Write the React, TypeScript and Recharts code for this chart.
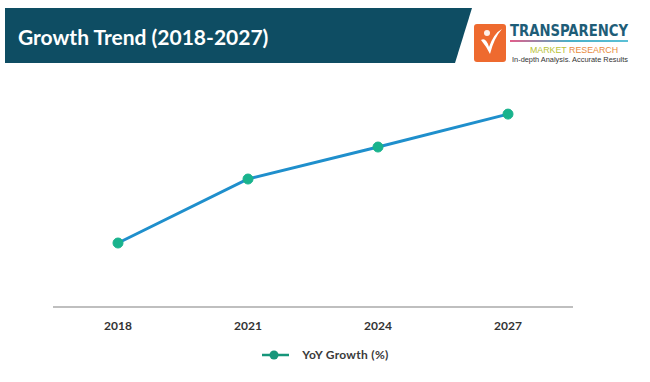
import React from "react";
import { LineChart, Line, XAxis, YAxis, Legend } from "recharts";

const years = ["2018", "2021", "2024", "2027"];
const growth = [27, 54, 67.5, 81.4];
const seriesName = "YoY Growth (%)";
const title = "Growth Trend (2018-2027)";

const data = years.map((y, i) => ({ year: y, value: growth[i] }));

const FONT = "Lato, 'Open Sans', sans-serif";

const LegendContent = () => (
  <div style={{ display: "flex", justifyContent: "center", alignItems: "center", fontFamily: FONT }}>
    <svg width={30} height={12} style={{ marginRight: 11 }}>
      <line x1={1} y1={6} x2={28} y2={6} stroke="#16967a" strokeWidth={2.5} />
      <circle cx={13} cy={6} r={4.5} fill="#16967a" />
    </svg>
    <span style={{ fontSize: 12, fontWeight: 700, color: "#3a3a3a", letterSpacing: 0.3 }}>{seriesName}</span>
  </div>
);

const Dot = (props: any) => {
  const { cx, cy } = props;
  if (cx == null || cy == null) return null;
  return <circle cx={cx} cy={cy} r={5} fill="#19b38d" stroke="#19b38d" strokeWidth={1} />;
};

export default function App() {
  return (
    <div style={{ position: "absolute", left: 0, top: 0, width: 650, height: 382, background: "#fff", overflow: "hidden" }}>
      <svg width={650} height={70} style={{ position: "absolute", left: 0, top: 0 }}>
        <polygon points="5,8 472,8 455,63 5,63" fill="#0e4d63" />
        <text x={18} y={45} fill="#ffffff" fontFamily={FONT} fontWeight={700} fontSize={21}>
          {title}
        </text>
        {/* logo */}
        <rect x={474} y={24} width={32} height={38} rx={3} fill="#ee6a2f" />
        <path d="M481,40 Q486,37 489,47 Q494,33 502,29 Q494,38 490,54 Q486,46 481,40 Z" fill="#ffffff" />
        <circle cx={487} cy={33} r={3} fill="#ffffff" opacity={0.9} />
        <text x={510} y={36} fill="#1e5d78" fontFamily="'Liberation Sans Narrow', 'DejaVu Sans Condensed', sans-serif" fontWeight={700} fontSize={16} textLength={118} lengthAdjust="spacingAndGlyphs">
          TRANSPARENCY
        </text>
        <defs>
          <linearGradient id="lg" x1="0" x2="1" y1="0" y2="0">
            <stop offset="0" stopColor="#e35d8a" />
            <stop offset="0.5" stopColor="#4ab0c8" />
            <stop offset="1" stopColor="#5bc0d6" />
          </linearGradient>
        </defs>
        <rect x={510} y={40} width={118} height={2} fill="url(#lg)" />
        <text x={530} y={53} fontFamily="'Liberation Sans', sans-serif" fontSize={9} textLength={88} lengthAdjust="spacingAndGlyphs">
          <tspan fill="#b8c236">MARKET </tspan>
          <tspan fill="#e88a3c">RESEARCH</tspan>
        </text>
        <text x={512} y={62} fill="#333" fontFamily="'Liberation Sans', sans-serif" fontSize={7} textLength={116} lengthAdjust="spacingAndGlyphs">
          In-depth Analysis. Accurate Results
        </text>
      </svg>
      <LineChart
        width={650}
        height={382}
        data={data}
        margin={{ top: 70, right: 77, bottom: 45, left: 53 }}
        style={{ position: "absolute", left: 0, top: 0 }}
      >
        <XAxis
          dataKey="year"
          padding={{ left: 65, right: 65 }}
          axisLine={{ stroke: "#bfbfbf", strokeWidth: 2 }}
          tickLine={false}
          height={30}
          tickMargin={8}
          tick={{ fill: "#333", fontSize: 12, fontWeight: 700, fontFamily: FONT }}
        />
        <YAxis hide domain={[0, 100]} />
        <Legend
          verticalAlign="middle"
          align="center"
          layout="horizontal"
          wrapperStyle={{ top: 347, left: 0, width: 650 }}
          content={<LegendContent />}
        />
        <Line
          type="linear"
          dataKey="value"
          name={seriesName}
          stroke="#1f8fcc"
          strokeWidth={3}
          dot={<Dot />}
          activeDot={false}
          isAnimationActive={false}
        />
      </LineChart>
    </div>
  );
}
